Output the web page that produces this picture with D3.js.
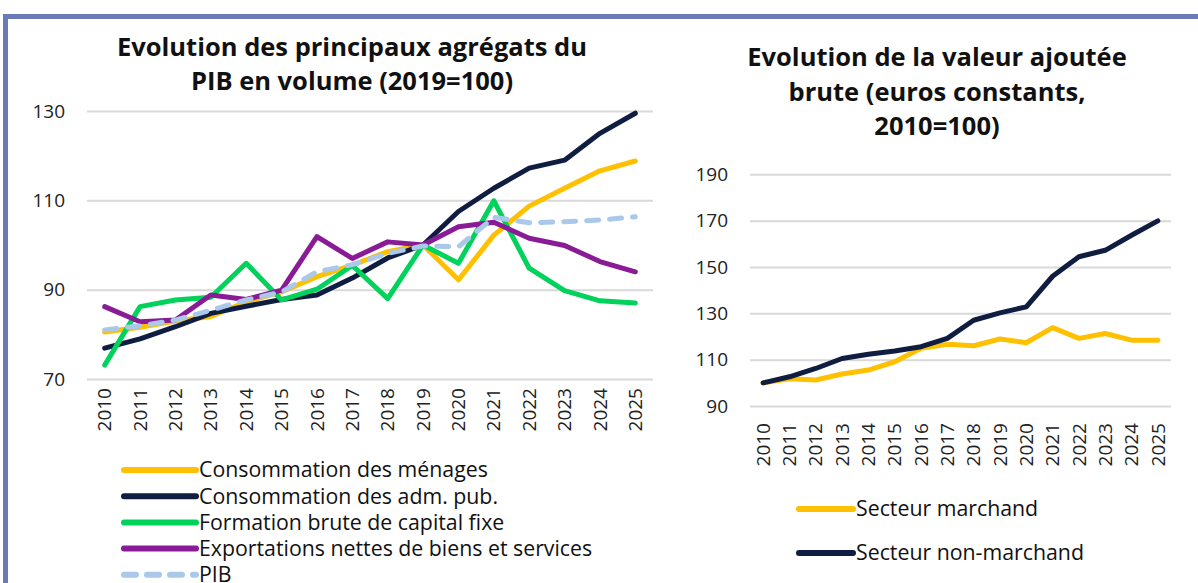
<!doctype html>
<html>
<head>
<meta charset="utf-8">
<script src="https://d3js.org/d3.v7.min.js"></script>
<style>
  body { margin: 0; background: #fff; }
  svg { font-family: "Open Sans", sans-serif; }
</style>
</head>
<body>
<svg width="1198" height="583"></svg>
<script>
// years on both charts
var years = d3.range(2010, 2026).map(String);

// left chart: PIB aggregates, 2019=100
var menages  = [80.5, 81.6, 83.0, 84.0, 87.3, 89.5, 92.9, 95.5, 98.5, 100, 92.2, 102.2, 108.7, 112.7, 116.6, 118.8];
var admPub   = [76.9, 79.0, 81.7, 84.7, 86.3, 87.8, 88.8, 92.6, 97.1, 100, 107.5, 112.7, 117.2, 119.0, 125.0, 129.5];
var fbcf     = [73.1, 86.2, 87.7, 88.3, 95.9, 87.7, 90.1, 95.4, 88.0, 100, 95.9, 109.9, 94.8, 89.8, 87.5, 87.0];
var exports_ = [86.2, 82.8, 83.2, 88.8, 87.8, 89.9, 101.9, 97.0, 100.7, 100, 104.1, 105.1, 101.5, 99.9, 96.3, 94.0];
var pib      = [81.0, 81.9, 83.2, 85.4, 87.7, 89.5, 94.0, 95.6, 98.1, 99.8, 99.6, 106.2, 105.0, 105.2, 105.6, 106.3];
var leftTicks = [70, 90, 110, 130];

// right chart: valeur ajoutee brute, 2010=100
var marchand    = [100, 101.8, 101.2, 103.8, 105.5, 109.1, 114.9, 116.6, 116.0, 118.9, 117.3, 123.8, 119.2, 121.3, 118.4, 118.4];
var nonMarchand = [100, 102.6, 106.2, 110.5, 112.3, 113.7, 115.6, 119.2, 127.0, 130.2, 132.8, 146.0, 154.4, 157.2, 163.7, 169.9];
var rightTicks = [90, 110, 130, 150, 170, 190];

var yellow = "#ffc000", navy = "#0f1d40", green = "#00d25b", purple = "#8a1b96", pale = "#a9c8ea";

var svg = d3.select("svg");

// frame
svg.append("rect").attr("x", 5.5).attr("y", 16.5).attr("width", 1300).attr("height", 700)
   .attr("fill", "none").attr("stroke", "#6b7bb8").attr("stroke-width", 5);

function drawChart(opt) {
    var x = d3.scaleBand().domain(years).range([opt.x0, opt.x1]);
    var y = d3.scaleLinear().domain(opt.domain).range([opt.yb, opt.yt]);
    var g = svg.append("g");

    g.append("g")
     .attr("transform", "translate(" + opt.x0 + ",0)")
     .call(d3.axisLeft(y).tickValues(opt.ticks).tickSize(-(opt.x1 - opt.x0)).tickPadding(22))
     .call(function(a) {
         a.select(".domain").remove();
         a.selectAll("line").attr("stroke", "#d9d9d9").attr("stroke-width", 2);
         a.selectAll("text").attr("font-size", "19px").attr("fill", "#222").attr("font-family", "Open Sans");
     });

    g.append("g")
     .attr("transform", "translate(0," + opt.yb + ")")
     .call(d3.axisBottom(x).tickSize(0))
     .call(function(a) {
         a.select(".domain").remove();
         a.selectAll("text")
          .attr("font-size", "19px").attr("fill", "#222").attr("font-family", "Open Sans")
          .attr("transform", "rotate(-90)")
          .attr("text-anchor", "end")
          .attr("x", -opt.labelGap).attr("y", 0).attr("dy", "0.35em");
     });

    var line = d3.line()
        .x(function(d, i) { return x(years[i]) + x.bandwidth() / 2; })
        .y(function(d) { return y(d); });

    opt.series.forEach(function(s) {
        g.append("path").datum(s.values)
         .attr("d", line)
         .attr("fill", "none")
         .attr("stroke", s.color)
         .attr("stroke-width", 5)
         .attr("stroke-linejoin", "round")
         .attr("stroke-linecap", "round")
         .attr("stroke-dasharray", s.dash ? "12,11" : null);
    });

    var title = g.append("text").attr("font-size", "25.5px").attr("font-weight", "bold")
                 .attr("text-anchor", "middle").attr("fill", "#111");
    opt.title.forEach(function(t, i) {
        title.append("tspan").attr("x", opt.titleX).attr("y", opt.titleY + i * opt.titleLh).text(t);
    });

    var leg = g.selectAll(".leg").data(opt.series).enter().append("g")
        .attr("transform", function(d, i) { return "translate(" + opt.legX + "," + (opt.legY + i * opt.legLh) + ")"; });
    leg.append("line").attr("x1", 0).attr("x2", opt.legW).attr("y1", 0).attr("y2", 0)
       .attr("stroke", function(d) { return d.color; })
       .attr("stroke-width", 6).attr("stroke-linecap", "round")
       .attr("stroke-dasharray", function(d) { return d.dash ? "12,11" : null; });
    leg.append("text").attr("x", opt.legW + 3).attr("y", 0).attr("dy", "0.35em")
       .attr("font-size", "21.3px").attr("fill", "#111")
       .text(function(d) { return d.name; });
}

drawChart({
    x0: 87, x1: 653, yt: 111, yb: 379, domain: [70, 130], ticks: leftTicks, labelGap: 9,
    title: ["Evolution des principaux agrégats du", "PIB en volume (2019=100)"],
    titleX: 352, titleY: 56, titleLh: 34,
    legX: 124, legY: 470, legLh: 26.2, legW: 72,
    series: [
        { name: "Consommation des ménages", values: menages, color: yellow },
        { name: "Consommation des adm. pub.", values: admPub, color: navy },
        { name: "Formation brute de capital fixe", values: fbcf, color: green },
        { name: "Exportations nettes de biens et services", values: exports_, color: purple },
        { name: "PIB", values: pib, color: pale, dash: true }
    ]
});

drawChart({
    x0: 750, x1: 1171, yt: 174.3, yb: 406, domain: [90, 190], ticks: rightTicks, labelGap: 17,
    title: ["Evolution de la valeur ajoutée", "brute (euros constants,", "2010=100)"],
    titleX: 937, titleY: 66, titleLh: 34.5,
    legX: 799, legY: 509, legLh: 44, legW: 54,
    series: [
        { name: "Secteur marchand", values: marchand, color: yellow },
        { name: "Secteur non-marchand", values: nonMarchand, color: navy }
    ]
});
</script>
</body>
</html>
